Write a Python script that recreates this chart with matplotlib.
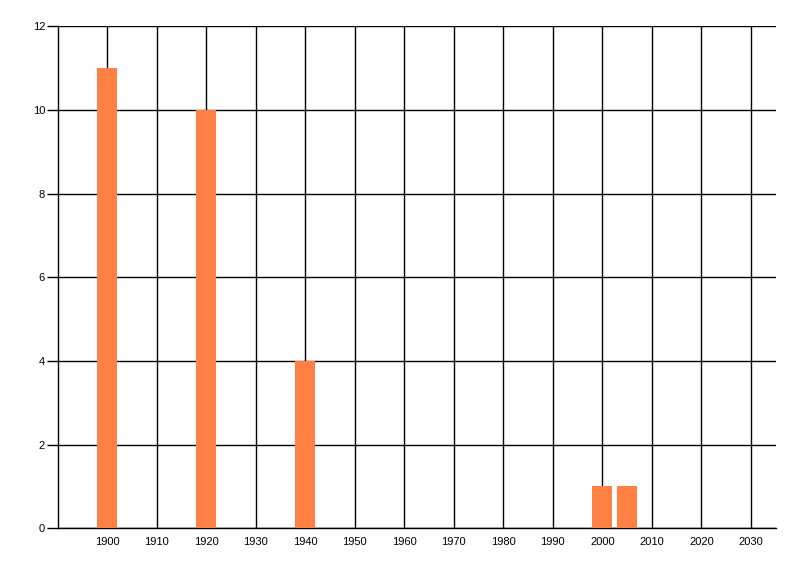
import matplotlib.pyplot as plt
import numpy as np

years = [1900, 1920, 1940, 2000, 2005]
counts = [11, 10, 4, 1, 1]
x_ticks = list(range(1900, 2031, 10))
y_ticks = [0, 2, 4, 6, 8, 10, 12]


def main():
  plt.rcParams['font.family'] = ['Liberation Sans', 'DejaVu Sans']
  fig = plt.figure(figsize=(8, 5.76), dpi=100)
  ax = fig.add_axes([0.072, 0.083, 0.8976, 0.8714])

  ax.bar(years, counts, width=4, color='#FF8042', zorder=3)

  ax.set_xlim(1890, 2035)
  ax.set_ylim(0, 12)
  ax.set_xticks(x_ticks)
  ax.set_yticks(y_ticks)
  ax.grid(True, color='black', linewidth=1)
  ax.set_axisbelow(True)

  for side in ['top', 'right']:
    ax.spines[side].set_visible(False)
  ax.spines['left'].set_linewidth(1)
  ax.spines['bottom'].set_linewidth(1)

  ax.tick_params(axis='x', length=0, pad=6, labelsize=8)
  ax.tick_params(axis='y', length=8, width=1, pad=1, labelsize=8)

  fig.savefig('out.png', dpi=100)


if __name__ == '__main__':
  main()
